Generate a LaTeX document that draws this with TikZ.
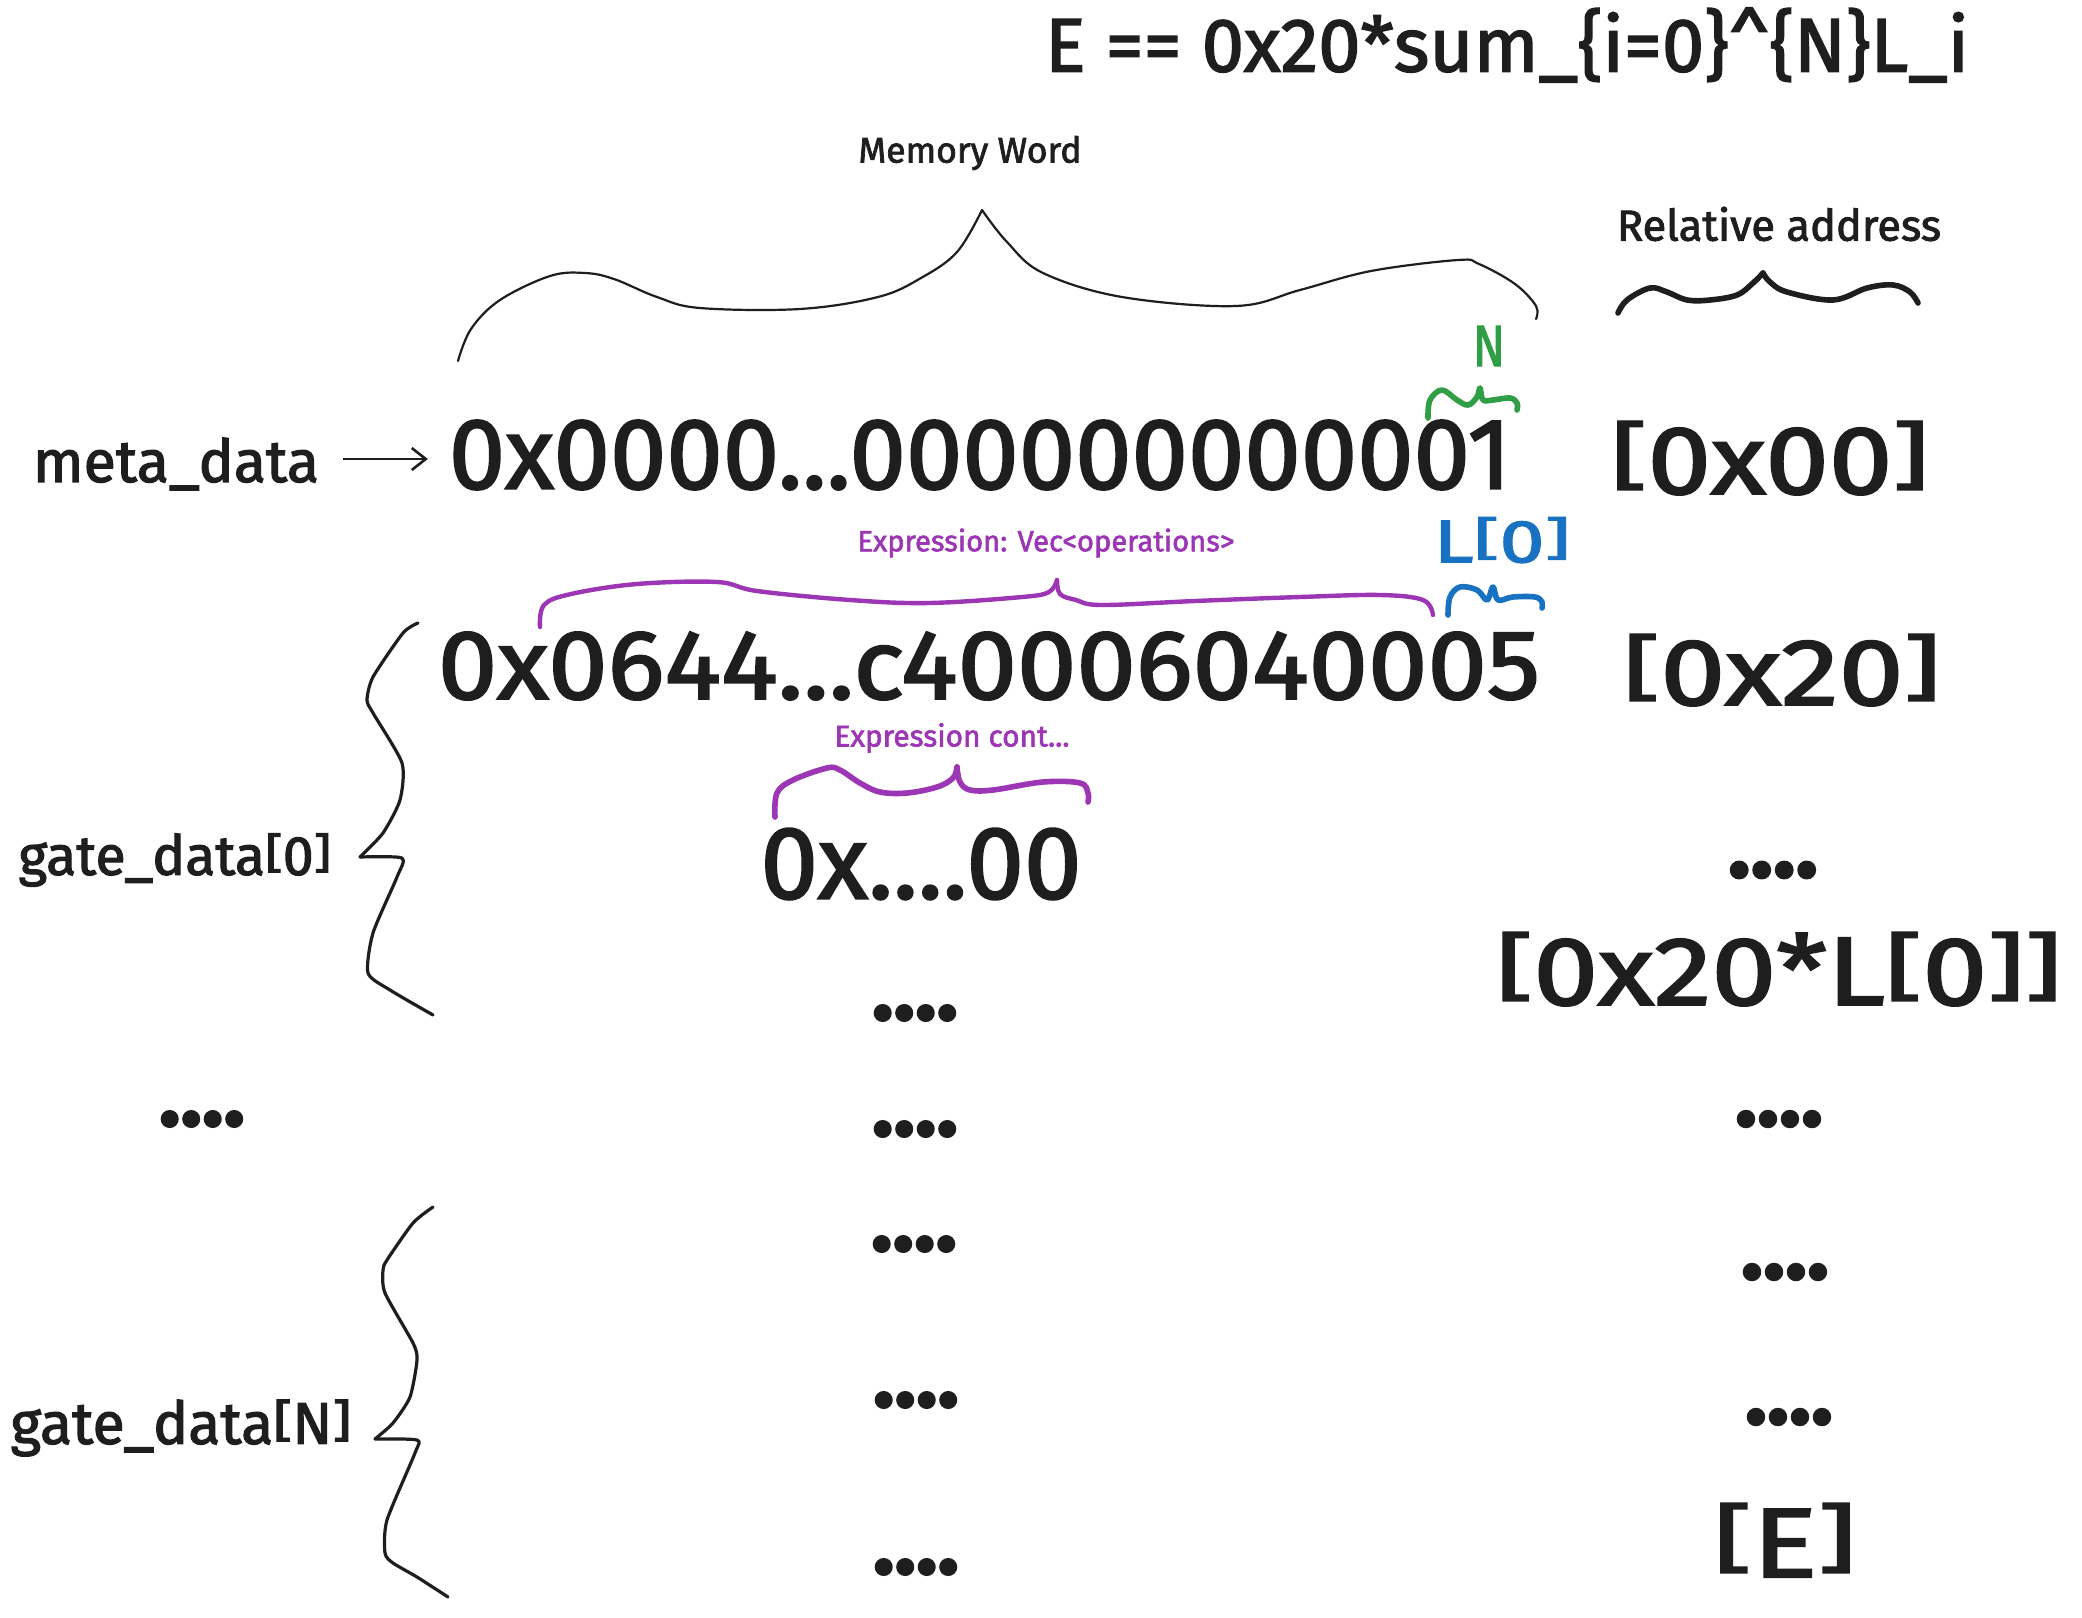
\documentclass[tikz,border=0pt]{standalone}
\usepackage{fontspec}
\setmainfont{Fira Sans}[FakeBold=2]
\usepackage{graphicx}
\usetikzlibrary{arrows.meta}
\definecolor{ink}{HTML}{1E1E1E}
\definecolor{grn}{HTML}{2F9E44}
\definecolor{blu}{HTML}{1971C2}
\definecolor{pur}{HTML}{9C36B5}
\newlength\pxu
\setlength\pxu{0.5pt}
\newcommand\fitw[2]{\resizebox{#1\pxu}{!}{#2}}
\newcommand\fitwh[3]{\resizebox*{#1\pxu}{#2\pxu}{#3}}
\newcommand\bk[1]{\raisebox{0.13em}{\scalebox{1}[0.76]{#1}}}
\tikzset{
  txt/.style={inner sep=0pt, outer sep=0pt, text=ink, anchor=center},
  brc/.style={draw=ink, line cap=round, line join=round, line width=1.6pt},
  thinbrc/.style={draw=ink, line cap=round, line join=round, line width=1.1pt},
  arr/.style={draw=ink, line width=1.3pt, -{Straight Barb[length=7pt,width=11pt,line width=1.3pt]}},
}
\begin{document}
\begin{tikzpicture}[x=0.5pt,y=-0.5pt]
\useasboundingbox[fill=white] (0,0) rectangle (2082,1617);

% top formula
\node[txt] (formula) at (1507,45) {\fitw{924}{E == 0x20*sum\_\{i=0\}\^{}\{N\}L\_i}};

% memory word
\node[txt] (mw) at (970,153) {\fitw{223}{Memory Word}};
\draw[thinbrc] plot[smooth,tension=0.6] coordinates {(458,361) (471,329) (500,300) (550,276) (585,273) (614,279) (657,297) (700,308) (800,309) (878,297) (921,278) (957,252) (982,210)};
\draw[thinbrc] plot[smooth,tension=0.6] coordinates {(982,210) (1007,242) (1043,273) (1122,297) (1236,306) (1300,290) (1371,271) (1458,260) (1479,264) (1515,284) (1536,306) (1536,319)};

% relative address
\node[txt] (ra) at (1779,224) {\fitw{324}{Relative address}};
\draw[brc,line width=2.8pt] plot[smooth,tension=0.6] coordinates {(1618,313) (1627,300) (1650,288) (1667,292) (1687,300) (1710,300) (1737,295) (1753,283) (1763,273)};
\draw[brc,line width=2.8pt] plot[smooth,tension=0.6] coordinates {(1763,273) (1770,282) (1787,292) (1833,300) (1867,288) (1893,285) (1910,292) (1918,303)};

% green N
\node[txt,text=grn] (nlab) at (1489,346) {\fitwh{32}{40}{N}};
\draw[draw=grn,line width=2.8pt,line cap=round,line join=round] plot[smooth,tension=0.6] coordinates {(1428,418) (1430,400) (1442,390) (1457,400) (1468,405) (1477,397) (1480,388) (1483,400) (1493,400) (1510,398) (1517,403) (1517,410)};

% meta data row
\node[txt] (meta) at (176,464) {\fitw{286}{meta\_data}};
\node[txt] (hex1) at (980,455) {\fitw{1062}{0x0000...000000000001}};
\node[txt] (a00) at (1770,458) {\fitwh{318}{74}{\bk{[}0x00\bk{]}}};
\draw[arr] ([xshift=12pt,yshift=2.5pt]meta.east) -- ([xshift=-10.5pt,yshift=2.5pt]meta.east -| hex1.west);

% blue L[0]
\node[txt,text=blu] (l0) at (1502,540) {\fitwh{137}{46}{L\bk{[}0\bk{]}}};
\draw[draw=blu,line width=2.8pt,line cap=round,line join=round] plot[smooth,tension=0.6] coordinates {(1448,615) (1450,597) (1460,587) (1477,590) (1487,600) (1493,587) (1498,600) (1513,597) (1535,597) (1542,602) (1542,608)};

% purple expression brace
\node[txt,text=pur] (expr) at (1046,543) {\fitw{377}{Expression: Vec<operations>}};
\draw[draw=pur,line width=2.2pt,line cap=round,line join=round] plot[smooth,tension=0.6] coordinates {(540,627) (544,605) (571,594) (637,584) (717,582) (757,591) (850,600) (929,603) (1022,597) (1049,592) (1057,580)};
\draw[draw=pur,line width=2.2pt,line cap=round,line join=round] plot[smooth,tension=0.6] coordinates {(1057,580) (1060,594) (1076,600) (1102,605) (1195,601) (1300,597) (1380,595) (1423,600) (1433,615)};

% second row
\node[txt] (hex2) at (989,666) {\fitwh{1102}{68}{0x0644...c40006040005}};
\node[txt] (a20) at (1782,670) {\fitwh{318}{72}{\bk{[}0x20\bk{]}}};

% expression cont
\node[txt,text=pur] (exprc) at (952,738) {\fitw{235}{Expression cont...}};
\draw[draw=pur,line width=2.8pt,line cap=round,line join=round] plot[smooth,tension=0.6] coordinates {(775,817) (777,793) (793,780) (827,768) (840,770) (860,783) (880,792) (907,793) (937,787) (953,778) (957,767)};
\draw[draw=pur,line width=2.8pt,line cap=round,line join=round] plot[smooth,tension=0.6] coordinates {(957,767) (960,782) (970,790) (993,790) (1043,782) (1080,783) (1088,793) (1088,802)};

\node[txt] (hex3) at (921,864) {\fitw{321}{0x....00}};

% gate_data[0]
\node[txt] (gd0) at (175,860) {\fitw{313}{gate\_data\bk{[}0\bk{]}}};
\draw[brc] plot[smooth,tension=0.4] coordinates {(418,623) (403,633) (373,677) (367,700) (373,713) (402,763) (400,800) (383,833) (360,857)};
\draw[brc] plot[smooth,tension=0.4] coordinates {(360,857) (402,858) (397,877) (373,933) (368,973) (390,990) (433,1015)};

% gate_data[N]
\node[txt] (gdn) at (181,1428) {\fitw{341}{gate\_data\bk{[}N\bk{]}}};
\draw[brc] plot[smooth,tension=0.4] coordinates {(433,1207) (413,1223) (387,1260) (383,1270) (385,1293) (413,1343) (417,1360) (410,1397) (393,1423) (375,1439)};
\draw[brc] plot[smooth,tension=0.4] coordinates {(375,1439) (417,1440) (415,1453) (387,1520) (385,1553) (393,1563) (417,1577) (448,1597)};

% right column
\node[txt] (r1) at (1773,870) {\fitw{90}{\bfseries ....}};
\node[txt] (a20l) at (1779,969) {\fitwh{566}{74}{\bk{[}0x20*L\bk{[}0\bk{]}\bk{]}}};
\node[txt] (r2) at (1779,1119) {\fitw{88}{\bfseries ....}};
\node[txt] (r3) at (1785,1272) {\fitw{88}{\bfseries ....}};
\node[txt] (r4) at (1789,1417) {\fitw{88}{\bfseries ....}};
\node[txt] (ae) at (1785,1540) {\fitwh{143}{74}{\bk{[}E\bk{]}}};

% middle column dots
\node[txt] (m1) at (915,1013) {\fitw{86}{\bfseries ....}};
\node[txt] (m2) at (915,1129) {\fitw{86}{\bfseries ....}};
\node[txt] (m3) at (914,1244) {\fitw{86}{\bfseries ....}};
\node[txt] (m4) at (916,1400) {\fitw{86}{\bfseries ....}};
\node[txt] (m5) at (916,1567) {\fitw{86}{\bfseries ....}};

% left dots
\node[txt] (l1) at (202,1119) {\fitw{86}{\bfseries ....}};
\end{tikzpicture}
\end{document}
